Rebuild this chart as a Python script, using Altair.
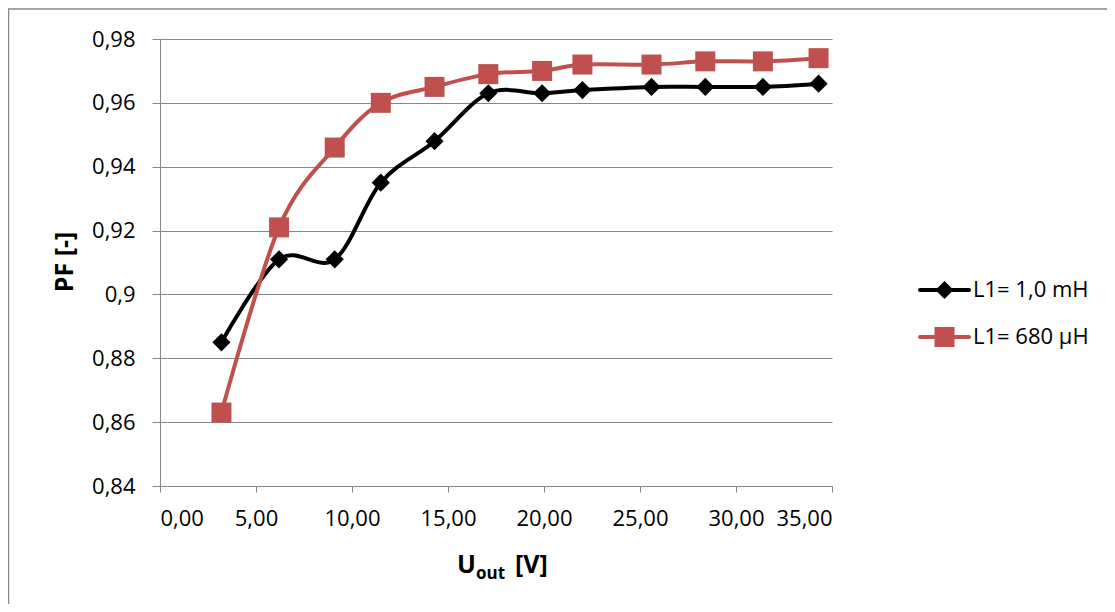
import altair as alt
import pandas as pd

u_out = [3.2, 6.2, 9.1, 11.5, 14.3, 17.1, 19.9, 22.0, 25.6, 28.4, 31.4, 34.3]
pf_l1_1mh = [0.885, 0.911, 0.911, 0.935, 0.948, 0.963, 0.963, 0.964, 0.965, 0.965, 0.965, 0.966]
pf_l1_680uh = [0.863, 0.921, 0.946, 0.960, 0.965, 0.969, 0.970, 0.972, 0.972, 0.973, 0.973, 0.974]
series_names = ["L1= 1,0 mH", "L1= 680 µH"]
series_colors = ["#000000", "#C0504D"]
series_shapes = ["diamond", "square"]
series_sizes = [330, 400]
x_ticks = [0, 5, 10, 15, 20, 25, 30, 35]
y_ticks = [0.84, 0.86, 0.88, 0.90, 0.92, 0.94, 0.96, 0.98]

FONT = "Open Sans"
W, H = 672, 447

rows = []
for name, vals in zip(series_names, [pf_l1_1mh, pf_l1_680uh]):
    for x, y in zip(u_out, vals):
        rows.append({"series": name, "u": x, "pf": y})
df = pd.DataFrame(rows)

xscale = alt.Scale(domain=[0, 35], nice=False)
yscale = alt.Scale(domain=[0.84, 0.98], nice=False, zero=False)

xaxis = alt.Axis(values=x_ticks, title=None, grid=False,
                 labelExpr="replace(format(datum.value, '.2f'), '.', ',')",
                 labelFont=FONT, labelFontSize=22, labelColor="#000",
                 domainColor="#868686", tickColor="#868686", tickSize=6,
                 labelPadding=16)
yaxis = alt.Axis(values=y_ticks, title=None, grid=True, gridColor="#868686",
                 labelExpr="replace(format(datum.value, '.2~f'), '.', ',')",
                 labelFont=FONT, labelFontSize=22, labelColor="#000",
                 domainColor="#868686", tickColor="#868686", tickSize=8,
                 labelPadding=17)

X = alt.X("u:Q", scale=xscale, axis=xaxis)
Y = alt.Y("pf:Q", scale=yscale, axis=yaxis)

base = alt.Chart(df)
layers = []
for i, name in enumerate(series_names):
    sub = base.transform_filter(alt.datum.series == name)
    line = sub.mark_line(color=series_colors[i], strokeWidth=4, interpolate="cardinal").encode(x=X, y=Y)
    pts = sub.mark_point(shape=series_shapes[i], filled=True, opacity=1,
                         color=series_colors[i], size=series_sizes[i]).encode(x=X, y=Y)
    layers += [line, pts]

one = alt.Chart(pd.DataFrame({"a": [0]}))

# legend
for i, name in enumerate(series_names):
    ly = 251 + i * 47
    layers.append(one.mark_rule(color=series_colors[i], strokeWidth=4, strokeCap="round").encode(
        x=alt.value(760), x2=alt.value(809), y=alt.value(ly)))
    layers.append(one.mark_point(shape=series_shapes[i], filled=True, opacity=1,
                                 color=series_colors[i], size=series_sizes[i]).encode(
        x=alt.value(784.5), y=alt.value(ly)))
    layers.append(one.mark_text(text=name, align="left", baseline="middle", font=FONT,
                                fontSize=22, color="#000").encode(
        x=alt.value(813), y=alt.value(ly)))

# axis titles
layers.append(one.mark_text(text="PF [-]", angle=270, align="center", baseline="middle",
                            font=FONT, fontSize=25, fontWeight="bold", color="#000").encode(
    x=alt.value(-95.5), y=alt.value(223)))
layers.append(one.mark_text(text="U", align="left", baseline="alphabetic",
                            font=FONT, fontSize=25, fontWeight="bold", color="#000").encode(
    x=alt.value(297), y=alt.value(534)))
layers.append(one.mark_text(text="out", align="left", baseline="alphabetic",
                            font=FONT, fontSize=17, fontWeight="bold", color="#000").encode(
    x=alt.value(316), y=alt.value(540)))
layers.append(one.mark_text(text="[V]", align="left", baseline="alphabetic",
                            font=FONT, fontSize=25, fontWeight="bold", color="#000").encode(
    x=alt.value(355), y=alt.value(534)))

# outer frame
layers.append(one.mark_rect(fill="transparent", stroke="#8a8a8a", strokeWidth=1.5).encode(
    x=alt.value(-151.5), x2=alt.value(1000), y=alt.value(-30), y2=alt.value(620)))

chart = alt.layer(*layers).properties(
    width=W, height=H,
    padding={"left": 152, "top": 31, "right": 275, "bottom": 118},
    autosize=alt.AutoSizeParams(type="none"),
).configure_view(stroke=None)

chart.save("out.html", embed_options={"renderer": "svg", "actions": False})
